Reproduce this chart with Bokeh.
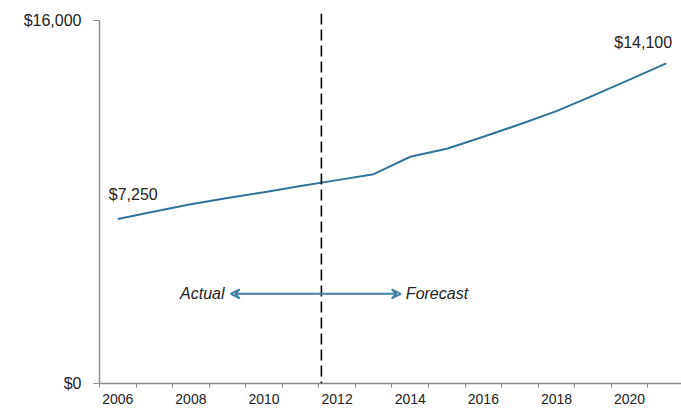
from bokeh.plotting import figure
from bokeh.models import Range1d, FixedTicker, Span, Arrow, VeeHead, Segment, ColumnDataSource
from bokeh.core.properties import value
from bokeh.embed import file_html
from bokeh.resources import INLINE

years = [2006, 2007, 2008, 2009, 2010, 2011, 2012, 2013, 2014, 2015, 2016, 2017, 2018, 2019, 2020, 2021]
values = [7250, 7580, 7900, 8170, 8430, 8700, 8960, 9220, 9990, 10340, 10870, 11420, 12000, 12680, 13390, 14100]
x_tick_years = [2006, 2008, 2010, 2012, 2014, 2016, 2018, 2020]
y_ticks = [0, 16000]
y_tick_labels = {0: "$0", 16000: "$16,000"}
divider_year = 2011.57
first_label = "$7,250"
last_label = "$14,100"

FONT = "Liberation Sans"
LINE_COLOR = "#33739a"
ARROW_COLOR = "#3e7fa5"
TEXT_COLOR = "#222222"
AXIS_COLOR = "#8c8c8c"

p = figure(width=681, height=408, output_backend="svg", toolbar_location=None,
           x_range=Range1d(2005.5, 2021.42), y_range=Range1d(0, 16300),
           min_border_left=99, min_border_right=0, min_border_top=13, min_border_bottom=25)
p.outline_line_color = None
p.xgrid.grid_line_color = None
p.ygrid.grid_line_color = None
p.background_fill_color = "white"
p.border_fill_color = "white"

# x axis: labels every 2 years at category centers, tick marks at category boundaries
xa = p.xaxis[0]
xa.ticker = FixedTicker(ticks=x_tick_years, minor_ticks=[y - 0.5 for y in years] + [2021.5])
xa.major_label_overrides = {y: str(y) for y in x_tick_years}
xa.major_tick_line_color = None
xa.major_tick_out = 4
xa.major_tick_in = 0
xa.minor_tick_line_color = AXIS_COLOR
xa.minor_tick_out = 4
xa.minor_tick_in = 0
xa.axis_line_color = AXIS_COLOR
xa.axis_line_width = 1.5
xa.major_label_standoff = 6
xa.major_label_text_font = FONT
xa.major_label_text_font_size = "14px"
xa.major_label_text_color = TEXT_COLOR

ya = p.yaxis[0]
ya.ticker = FixedTicker(ticks=y_ticks, minor_ticks=[])
ya.major_label_overrides = y_tick_labels
ya.bounds = (0, 16000)
ya.axis_line_color = AXIS_COLOR
ya.axis_line_width = 1.5
ya.major_tick_line_color = AXIS_COLOR
ya.major_tick_out = 6
ya.major_tick_in = 0
ya.minor_tick_line_color = None
ya.major_label_standoff = 12
ya.major_label_text_font = FONT
ya.major_label_text_font_size = "16px"
ya.major_label_text_color = TEXT_COLOR

# actual / forecast divider
p.add_layout(Span(location=divider_year, dimension="height", line_color="black",
                  line_width=1.6, line_dash="11 5"))

# series line
p.line(years, values, line_color=LINE_COLOR, line_width=2)

# end-point labels
p.text(x=[years[0]], y=[values[0]], text=[first_label], x_offset=-9, y_offset=-24,
       text_align="left", text_baseline="middle", text_font=value(FONT),
       text_font_size="16px", text_color=TEXT_COLOR)
p.text(x=[years[-1]], y=[values[-1]], text=[last_label], x_offset=6, y_offset=-21,
       text_align="right", text_baseline="middle", text_font=value(FONT),
       text_font_size="16px", text_color=TEXT_COLOR)

# actual <-> forecast arrow
arrow_y = 3950
p.add_layout(Arrow(x_start=2011.4, y_start=arrow_y, x_end=2009.09, y_end=arrow_y,
                   line_color=ARROW_COLOR, line_width=2,
                   end=VeeHead(size=9, line_color=ARROW_COLOR, line_width=2, fill_color=None)))
p.add_layout(Arrow(x_start=2011.4, y_start=arrow_y, x_end=2013.74, y_end=arrow_y,
                   line_color=ARROW_COLOR, line_width=2,
                   end=VeeHead(size=9, line_color=ARROW_COLOR, line_width=2, fill_color=None)))
p.text(x=[2008.92], y=[arrow_y], text=["Actual"], text_align="right", text_baseline="middle",
       text_font=value(FONT), text_font_size="16px", text_font_style="italic", text_color=TEXT_COLOR)
p.text(x=[2013.88], y=[arrow_y], text=["Forecast"], text_align="left", text_baseline="middle",
       text_font=value(FONT), text_font_size="16px", text_font_style="italic", text_color=TEXT_COLOR)

open("out.html", "w").write(file_html(p, INLINE))
